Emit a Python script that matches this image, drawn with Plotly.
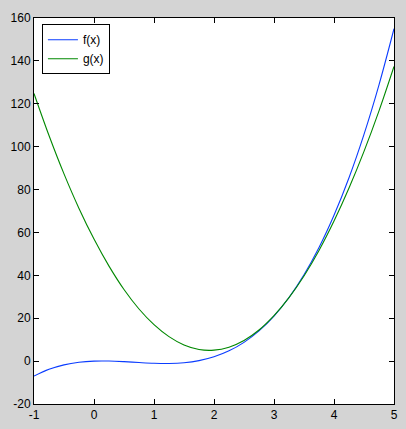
import plotly.graph_objects as go

x_vals = [-1, -0.75, -0.5, -0.25, 0, 0.25, 0.5, 0.75, 1, 1.25, 1.5, 1.75, 2,
          2.25, 2.5, 2.75, 3, 3.25, 3.5, 3.75, 4, 4.25, 4.5, 4.75, 5]
f_vals = [-7, -3.84, -1.75, -0.53, 0, 0.03, -0.25, -0.66, -1, -1.09, -0.75, 0.22, 2,
          4.78, 8.75, 14.09, 21, 29.66, 40.25, 52.97, 68, 85.53, 105.75, 128.84, 155]
g_vals = [124.8, 105.2, 87.3, 71.2, 56.9, 44.3, 33.4, 24.3, 17.0, 11.4, 7.5, 5.4, 5.1,
          6.5, 9.6, 14.5, 21.2, 29.6, 39.7, 51.6, 65.3, 80.7, 97.8, 116.7, 137.4]
series_names = ["f(x)", "g(x)"]
x_ticks = [-1, 0, 1, 2, 3, 4, 5]
y_ticks = [-20, 0, 20, 40, 60, 80, 100, 120, 140, 160]

fig = go.Figure()
fig.add_trace(go.Scatter(x=x_vals, y=f_vals, mode="lines", name=series_names[0],
                         line=dict(color="#0a3cff", width=1.1, shape="spline", smoothing=1)))
fig.add_trace(go.Scatter(x=x_vals, y=g_vals, mode="lines", name=series_names[1],
                         line=dict(color="#008800", width=1.1, shape="spline", smoothing=1)))

axis_common = dict(showline=True, linecolor="black", linewidth=1, mirror="ticks",
                   ticks="inside", ticklen=5, tickcolor="black", tickwidth=1,
                   showgrid=False, zeroline=False, automargin=False,
                   tickfont=dict(family="Liberation Sans, Arial", size=12, color="black"))

fig.update_xaxes(range=[-1, 5], tickvals=x_ticks, ticktext=[str(v) for v in x_ticks], **axis_common)
fig.update_yaxes(range=[-20, 160], tickvals=y_ticks, ticktext=[str(v) for v in y_ticks], **axis_common)

fig.update_layout(
    width=406, height=429,
    margin=dict(l=34, r=12, t=18, b=25, autoexpand=False),
    paper_bgcolor="#d4d4d4", plot_bgcolor="white",
    showlegend=True,
    legend=dict(x=0.022, y=0.984, xanchor="left", yanchor="top",
                bgcolor="white", bordercolor="black", borderwidth=1,
                font=dict(family="Liberation Sans, Arial", size=12, color="black"),
                tracegroupgap=0, itemwidth=30),
)

fig.write_html("out.html", config={"displayModeBar": False},
               post_script="document.body.style.margin='0px';document.body.style.background='#d4d4d4';")
